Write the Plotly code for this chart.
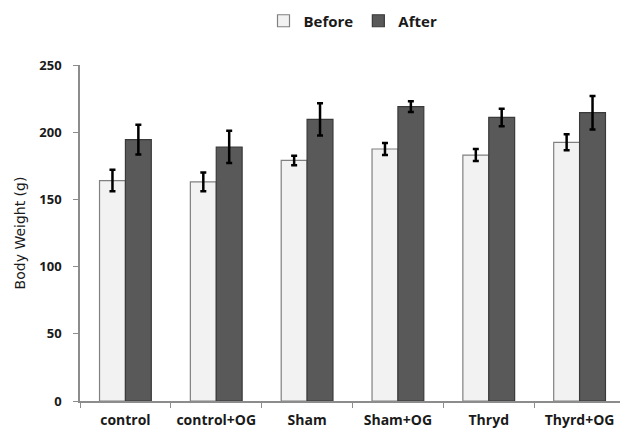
import plotly.graph_objects as go

categories = ["control", "control+OG", "Sham", "Sham+OG", "Thryd", "Thyrd+OG"]
before = [164, 163, 179, 187.5, 183, 192.5]
before_err = [8, 7, 3.5, 4.5, 4.5, 6]
after = [194.5, 189, 209.5, 219, 211, 214.5]
after_err = [11, 12, 12, 4, 6.5, 12.5]
y_ticks = [0, 50, 100, 150, 200, 250]

FONT = "Open Sans"
TXT = "#1a1a1a"
W, H = 620, 422  # page body has an 8px margin

fig = go.Figure()
fig.add_trace(go.Bar(
    name="Before", x=categories, y=before,
    error_y=dict(type="data", array=before_err, color="black", thickness=2.5, width=3),
    marker=dict(color="#f2f2f2", line=dict(color="#808080", width=1.2)),
))
fig.add_trace(go.Bar(
    name="After", x=categories, y=after,
    error_y=dict(type="data", array=after_err, color="black", thickness=2.5, width=3),
    marker=dict(color="#595959", line=dict(color="#3a3a3a", width=1.2)),
))

fig.update_layout(
    width=W, height=H,
    margin=dict(l=72, r=3, t=57, b=29, autoexpand=False),
    paper_bgcolor="white", plot_bgcolor="white",
    barmode="group", bargap=0.43, bargroupgap=0,
    font=dict(family=FONT, color=TXT),
    showlegend=True,
    legend=dict(
        orientation="h", x=345 / W, xanchor="center", xref="container",
        y=1 - 13 / H, yanchor="middle", yref="container",
        font=dict(family=FONT, size=15, color=TXT, weight="bold"),
        itemwidth=30, tracegroupgap=0, bgcolor="rgba(0,0,0,0)",
    ),
    xaxis=dict(
        type="category", tickson="boundaries",
        ticks="outside", ticklen=5, tickcolor="#8c8c8c",
        showline=True, linecolor="#8c8c8c", linewidth=1.5,
        showgrid=False, zeroline=False,
        tickfont=dict(family=FONT, size=14, color=TXT, weight="bold"),
        ticklabelstandoff=5,
    ),
    yaxis=dict(
        range=[0, 250], tickvals=y_ticks,
        ticks="outside", ticklen=5, tickcolor="#8c8c8c",
        showline=True, linecolor="#8c8c8c", linewidth=1.5,
        showgrid=False, zeroline=False,
        tickfont=dict(family=FONT, size=13, color=TXT, weight="bold"),
        ticklabelstandoff=9,
        title=dict(text="Body Weight (g)", font=dict(family="DejaVu Sans", size=14, color=TXT), standoff=10),
    ),
)

fig.write_html("out.html")
